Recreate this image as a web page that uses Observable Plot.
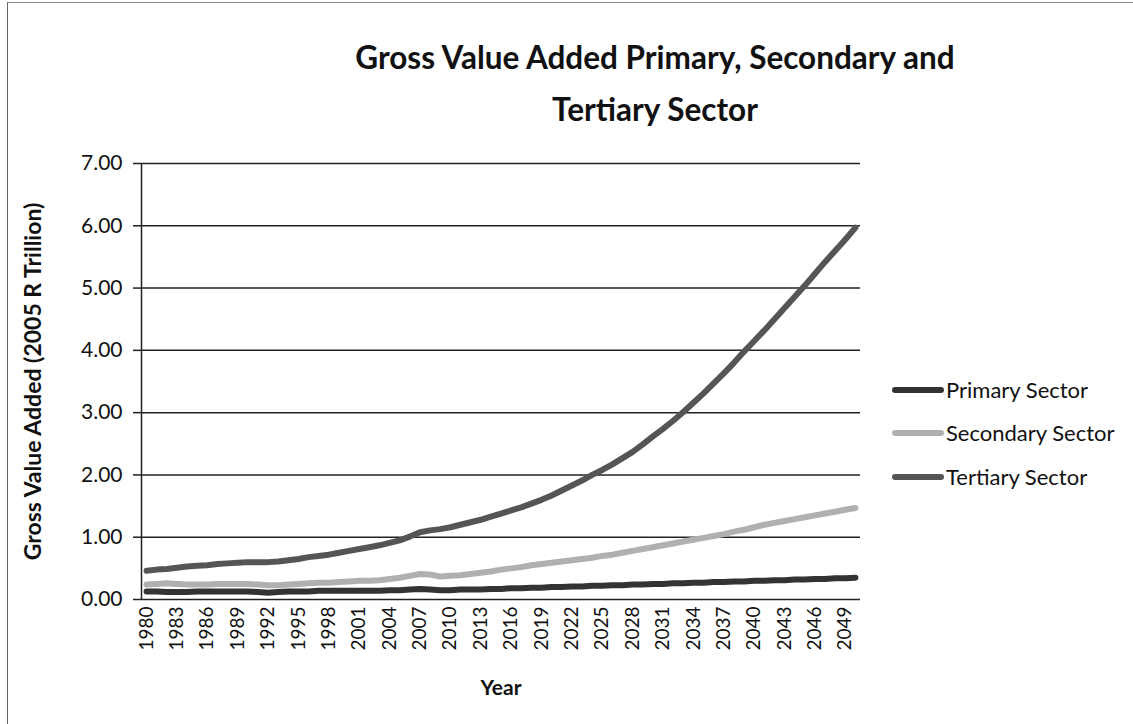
<!DOCTYPE html>
<html><head><meta charset="utf-8">
<script src="https://cdn.jsdelivr.net/npm/d3@7"></script>
<script src="https://cdn.jsdelivr.net/npm/@observablehq/plot@0.6"></script>
<style>
body{margin:0;background:#fff;overflow:hidden;font-family:Lato,sans-serif;color:#111}
#wrap{position:relative;width:1133px;height:724px;overflow:hidden}
#frame{position:absolute;left:7px;top:2px;width:1200px;height:800px;border-left:1.5px solid #666;border-top:1.5px solid #888;pointer-events:none}
#title{position:absolute;left:255px;width:800px;top:31px;text-align:center;font-weight:700;font-size:31.5px;line-height:52px;white-space:nowrap}
#chart{position:absolute;left:0;top:0}
#legend{position:absolute;left:892px;top:0}
.item{position:absolute;left:0;display:flex;align-items:center;white-space:nowrap;font-size:22px}
.sw{width:52px;height:6px;border-radius:3px;margin-right:2px}
</style></head>
<body>
<div id="wrap">
  <div id="chart"></div>
  <div id="title">Gross Value Added Primary, Secondary and<br>Tertiary Sector</div>
  <div id="legend"></div>
  <div id="frame"></div>
</div>
<script>
const seriesNames = ["Primary Sector", "Secondary Sector", "Tertiary Sector"];
const seriesColors = ["#333333", "#b0b0b0", "#555555"];
const years = d3.range(1980, 2051);
const primary = [
  0.13,0.13,0.12,0.12,0.12,0.13,0.13,0.13,0.13,0.13,
  0.13,0.12,0.11,0.12,0.13,0.13,0.13,0.14,0.14,0.14,
  0.14,0.14,0.14,0.14,0.15,0.15,0.16,0.17,0.16,0.15,
  0.15,0.16,0.16,0.16,0.17,0.17,0.18,0.18,0.19,0.19,
  0.20,0.20,0.21,0.21,0.22,0.22,0.23,0.23,0.24,0.24,
  0.25,0.25,0.26,0.26,0.27,0.27,0.28,0.28,0.29,0.29,
  0.30,0.30,0.31,0.31,0.32,0.32,0.33,0.33,0.34,0.34,
  0.35];
const secondary = [
  0.24,0.25,0.26,0.25,0.24,0.24,0.24,0.25,0.25,0.25,
  0.25,0.24,0.23,0.23,0.24,0.25,0.26,0.27,0.27,0.28,
  0.29,0.30,0.30,0.31,0.33,0.35,0.38,0.41,0.40,0.37,
  0.38,0.39,0.41,0.43,0.45,0.48,0.50,0.52,0.55,0.57,
  0.59,0.61,0.63,0.65,0.67,0.70,0.72,0.75,0.78,0.81,
  0.84,0.87,0.90,0.93,0.96,0.99,1.02,1.05,1.09,1.12,
  1.16,1.20,1.23,1.26,1.29,1.32,1.35,1.38,1.41,1.44,
  1.47];
const tertiary = [
  0.46,0.48,0.49,0.51,0.53,0.54,0.55,0.57,0.58,0.59,
  0.60,0.60,0.60,0.61,0.63,0.65,0.68,0.70,0.72,0.75,
  0.78,0.81,0.84,0.87,0.91,0.95,1.01,1.08,1.11,1.13,
  1.16,1.20,1.24,1.28,1.33,1.38,1.43,1.48,1.54,1.60,
  1.67,1.75,1.83,1.91,2.00,2.08,2.17,2.27,2.37,2.49,
  2.62,2.74,2.87,3.01,3.16,3.31,3.47,3.63,3.80,3.98,
  4.15,4.32,4.50,4.68,4.86,5.04,5.23,5.42,5.60,5.78,
  5.97];
const xTicks = d3.range(1980, 2050, 3);
const yTicks = [0,1,2,3,4,5,6,7];
const xTitle = "Year";
const yTitle = "Gross Value Added (2005 R Trillion)";

const seriesValues = [primary, secondary, tertiary];
const data = seriesNames.flatMap((name, s) => years.map((yr, i) => ({year: yr, value: seriesValues[s][i], series: name})));

const chart = Plot.plot({
  width: 1133, height: 724,
  marginLeft: 141, marginRight: 273, marginTop: 163, marginBottom: 125,
  style: {fontFamily: "Lato, sans-serif", fontSize: "19px", color: "#111", background: "transparent"},
  x: {domain: [1979.5, 2050.5]},
  y: {domain: [0, 7]},
  color: {domain: seriesNames, range: seriesColors},
  marks: [
    Plot.gridY(yTicks, {stroke: "#222", strokeOpacity: 1, strokeWidth: 1.5}),
    Plot.axisY(yTicks, {tickSize: 8, tickPadding: 11, tickFormat: d => d.toFixed(2), label: null, fontSize: 21, stroke: "#222", strokeWidth: 1.5}),
    Plot.ruleX([1979.5], {stroke: "#222", strokeWidth: 1.5}),
    Plot.axisX(xTicks, {tickSize: 0, tickPadding: 7, tickRotate: -90, tickFormat: d => String(d), label: null, fontSize: 19}),
    Plot.line(data, {x: "year", y: "value", z: "series", stroke: "series", strokeWidth: 6, strokeLinecap: "round"}),
    Plot.text([yTitle], {frameAnchor: "left", textAnchor: "middle", dx: -108, rotate: -90, fontWeight: "bold", fontSize: 23}),
    Plot.text([xTitle], {frameAnchor: "bottom", dy: 95, fontWeight: "bold", fontSize: 21})
  ]
});
document.getElementById("chart").appendChild(chart);

const legend = document.getElementById("legend");
const legendY = [390, 433, 477];
seriesNames.forEach((name, i) => {
  const it = document.createElement("div");
  it.className = "item";
  it.style.top = (legendY[i] - 14) + "px";
  it.innerHTML = `<div class="sw" style="background:${seriesColors[i]}"></div><span>${name}</span>`;
  legend.appendChild(it);
});
</script>
</body></html>
